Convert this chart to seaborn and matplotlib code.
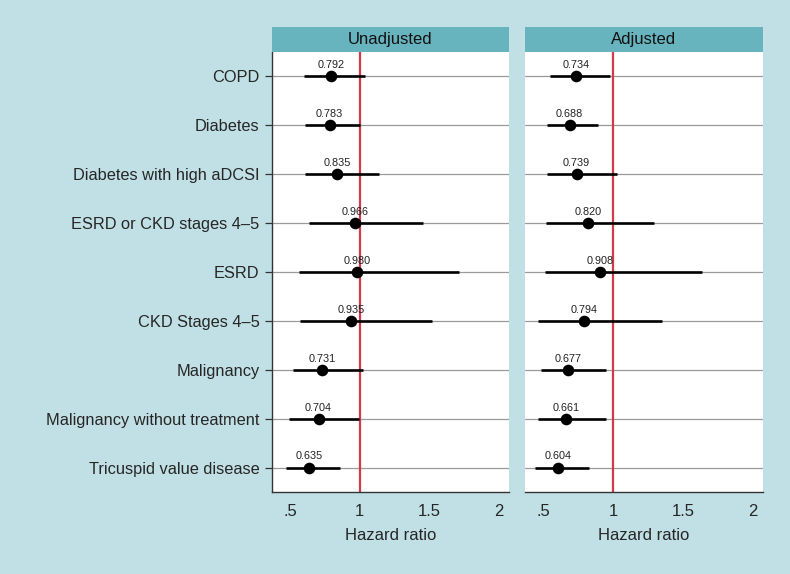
import matplotlib
matplotlib.use("Agg")
import matplotlib.pyplot as plt
import seaborn as sns
import pandas as pd

categories = ["COPD", "Diabetes", "Diabetes with high aDCSI", "ESRD or CKD stages 4\u20135",
              "ESRD", "CKD Stages 4\u20135", "Malignancy", "Malignancy without treatment",
              "Tricuspid value disease"]

unadj_hr = [0.792, 0.783, 0.835, 0.966, 0.980, 0.935, 0.731, 0.704, 0.635]
unadj_lo = [0.602, 0.610, 0.610, 0.633, 0.562, 0.574, 0.519, 0.490, 0.471]
unadj_hi = [1.039, 1.003, 1.140, 1.450, 1.713, 1.520, 1.020, 0.997, 0.860]

adj_hr = [0.734, 0.688, 0.739, 0.820, 0.908, 0.794, 0.677, 0.661, 0.604]
adj_lo = [0.549, 0.530, 0.530, 0.520, 0.510, 0.466, 0.485, 0.460, 0.443]
adj_hi = [0.980, 0.890, 1.029, 1.288, 1.633, 1.345, 0.952, 0.952, 0.825]

panel_titles = ["Unadjusted", "Adjusted"]
xtick_vals = [0.5, 1, 1.5, 2]
xtick_labels = [".5", "1", "1.5", "2"]

sns.set_theme(style="white")
plt.rcParams["font.family"] = ["Liberation Sans", "DejaVu Sans"]

BG = "#c1e0e5"
HEAD = "#67b4be"
RED = "#d23a4c"

fig = plt.figure(figsize=(7.9, 5.74), dpi=100, facecolor=BG)

panels = [
    (panel_titles[0], unadj_hr, unadj_lo, unadj_hi, 272 / 790, 237 / 790, True),
    (panel_titles[1], adj_hr, adj_lo, adj_hi, 525 / 790, 238 / 790, False),
]

bottom = 1 - 492 / 574
height = 440 / 574
head_h = 25 / 574

for title, hr, lo, hi, left, width, show_y in panels:
    df = pd.DataFrame({"cat": categories, "hr": hr, "lo": lo, "hi": hi,
                       "pos": list(range(len(categories)))})
    ax = fig.add_axes([left, bottom, width, height])
    ax.set_facecolor("white")
    for p in df["pos"]:
        ax.axhline(p, color="#9a9a9a", lw=0.9, zorder=1)
    ax.axvline(1, color=RED, lw=1.6, zorder=2)
    ax.hlines(df["pos"], df["lo"], df["hi"], color="black", lw=1.9, zorder=3)
    sns.scatterplot(data=df, x="hr", y="pos", ax=ax, color="black", s=70,
                    edgecolor="black", linewidth=0, zorder=4, legend=False)
    for _, r in df.iterrows():
        ax.annotate(f"{r['hr']:.3f}", (r["hr"], r["pos"]), xytext=(0, 8),
                    textcoords="offset points", ha="center", va="center",
                    fontsize=7.8, color="#222222", zorder=5)
    ax.set_xlim(0.37, 2.07)
    ax.set_ylim(8.5, -0.5)
    ax.set_xticks(xtick_vals)
    ax.set_xticklabels(xtick_labels, fontsize=12)
    ax.set_xlabel("Hazard ratio", fontsize=12, labelpad=6)
    ax.set_ylabel("")
    ax.tick_params(axis="x", direction="out", length=5, width=0.9, color="#333333", pad=4)
    for s in ["top", "right"]:
        ax.spines[s].set_visible(False)
    ax.spines["bottom"].set_color("#333333")
    ax.spines["bottom"].set_linewidth(1.0)
    if show_y:
        ax.set_yticks(df["pos"])
        ax.set_yticklabels(categories, fontsize=11.8)
        ax.tick_params(axis="y", direction="out", length=5, width=0.9, color="#333333",
                       left=True, pad=4)
        ax.spines["left"].set_color("#333333")
        ax.spines["left"].set_linewidth(1.0)
    else:
        ax.set_yticks([])
        ax.spines["left"].set_visible(False)
    # header strip
    hax = fig.add_axes([left, bottom + height, width, head_h])
    hax.set_facecolor(HEAD)
    hax.set_xticks([])
    hax.set_yticks([])
    for s in hax.spines.values():
        s.set_visible(False)
    hax.text(0.5, 0.5, title, ha="center", va="center", fontsize=12,
             color="#111111", transform=hax.transAxes)

fig.savefig("out.png", dpi=100, facecolor=BG)
